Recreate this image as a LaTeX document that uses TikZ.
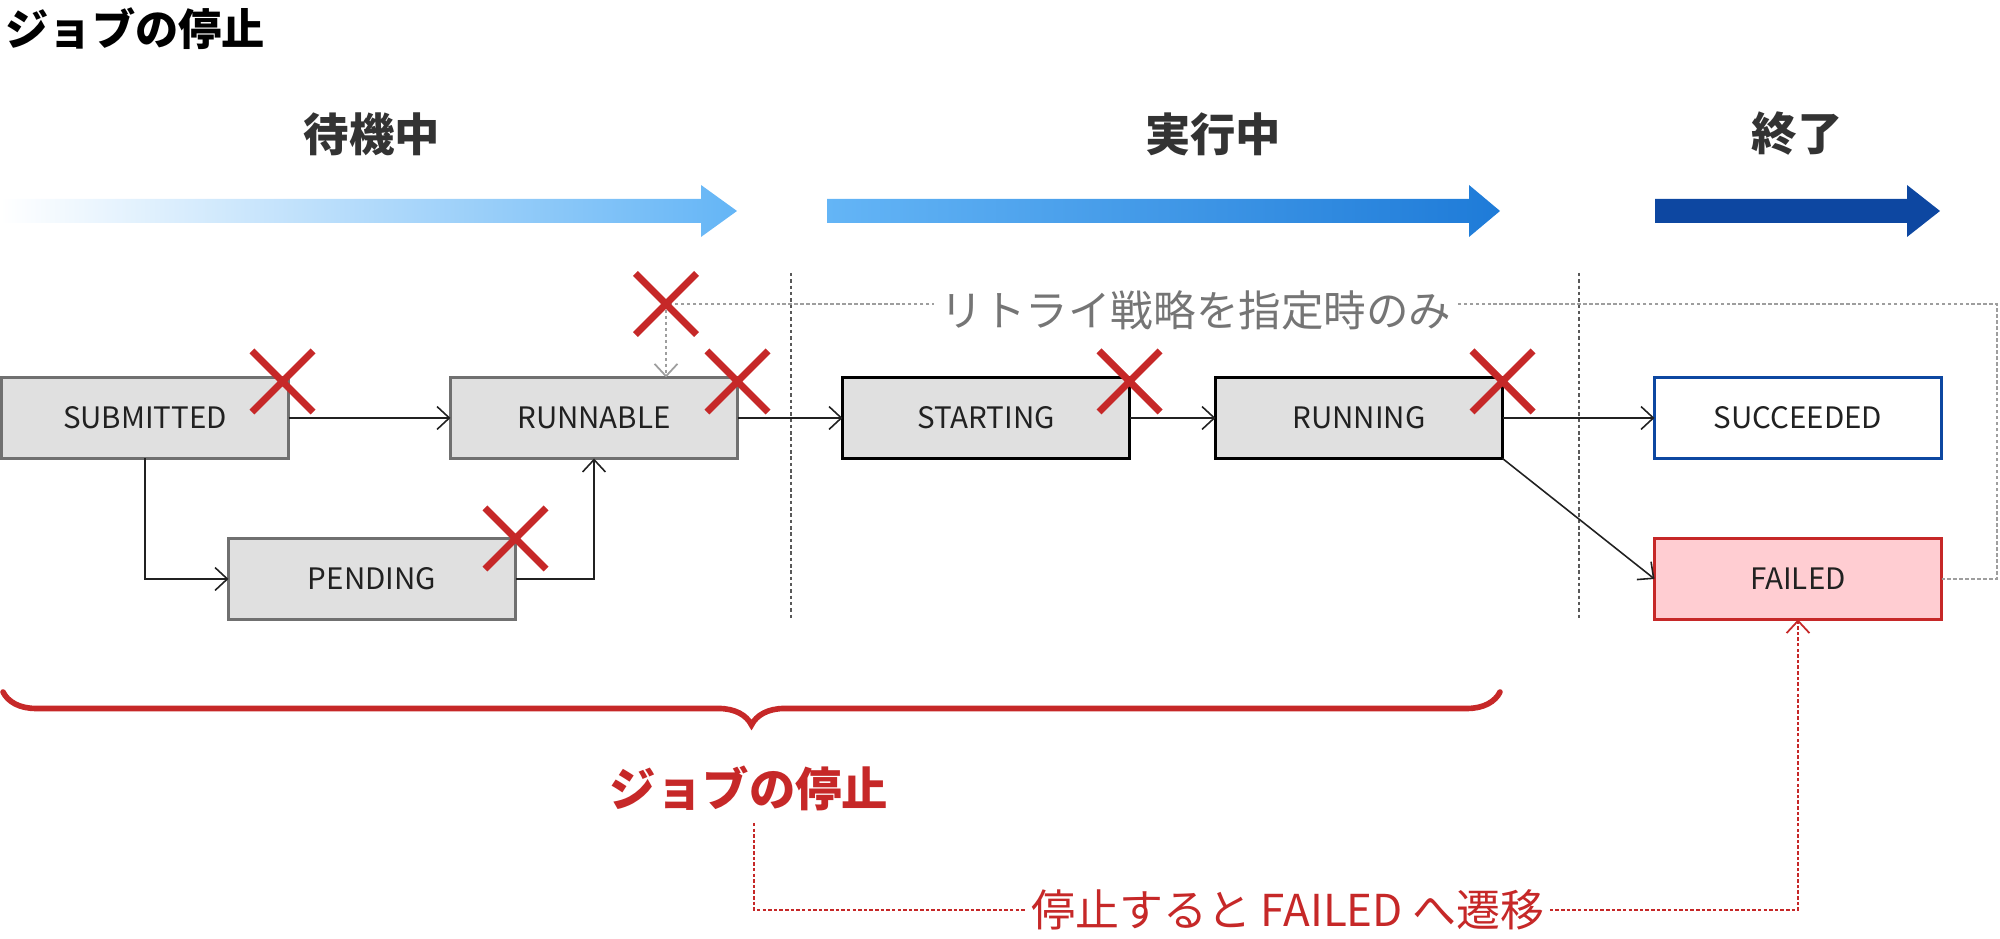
\documentclass[tikz,border=0pt]{standalone}
\usepackage{fontspec}
\setmainfont{Noto Sans CJK JP}
\usepackage{tikz}
\usetikzlibrary{shapes,arrows}
\usetikzlibrary{arrows.meta}
\usetikzlibrary{positioning}
\usetikzlibrary{decorations.pathreplacing}

\definecolor{boxgray}{HTML}{E0E0E0}
\definecolor{edgegray}{HTML}{707070}
\definecolor{stopred}{HTML}{C62828}
\definecolor{failpink}{HTML}{FFCDD2}
\definecolor{doneblue}{HTML}{0D47A1}
\definecolor{lightblue}{HTML}{64B5F6}
\definecolor{midblue}{HTML}{1E7BD8}
\definecolor{labelgray}{HTML}{333333}
\definecolor{retrygray}{HTML}{9E9E9E}
\definecolor{notegray}{HTML}{757575}

\begin{document}
\begin{tikzpicture}[>={Straight Barb[length=3.5pt,width=6.5pt]}, node distance=0.8cm, font=\fontsize{8.4}{10}\selectfont]
	\tikzstyle{waitbox} = [rectangle, minimum width=2.87cm, minimum height=0.81cm, inner sep=0pt, outer sep=0pt, fill=boxgray, draw=edgegray, line width=0.7pt, text=black!87];
	\tikzstyle{runbox} = [waitbox, draw=black, line width=0.9pt];
	\tikzstyle{okbox} = [waitbox, fill=white, draw=doneblue, line width=0.9pt];
	\tikzstyle{ngbox} = [waitbox, fill=failpink, draw=stopred, line width=0.9pt];
	\tikzstyle{stopmark} = [cross out, draw=stopred, line width=2pt, minimum size=0.54cm, inner sep=0pt];
	\tikzstyle{phase} = [text=labelgray, font=\fontsize{12.9}{15}\selectfont\bfseries];
	\tikzstyle{link} = [draw=black!87, line width=0.45pt];
	\tikzstyle{retry} = [draw=retrygray, line width=0.5pt, dash pattern=on 1pt off 0.7pt];
	\tikzstyle{retrynote} = [fill=white, text=notegray, inner xsep=0.07cm, inner ysep=0pt, font=\fontsize{12.1}{14}\selectfont];
	\tikzstyle{phasesep} = [draw=black!65, line width=0.45pt, dash pattern=on 1pt off 0.8pt];
	\tikzstyle{tofail} = [draw=stopred, line width=0.5pt, dash pattern=on 1pt off 0.6pt];
	\tikzstyle{tofailnote} = [fill=white, text=stopred, inner xsep=0.05cm, inner ysep=0pt, font=\fontsize{12.5}{15}\selectfont];

	\useasboundingbox (0,0) rectangle (20,9.39);

	\node [anchor=west, inner sep=0pt, font=\fontsize{12.3}{14}\selectfont\bfseries] (heading) at (0.05,9.10) {ジョブの停止};

	\node [phase] (waiting)  at (3.72,8.05)  {待機中};
	\node [phase] (active)   at (12.13,8.05) {実行中};
	\node [phase] (finished) at (17.97,8.05) {終了};

	\shade [left color=white, right color=lightblue] (0,7.16) -- (7.01,7.16) -- (7.01,7.02) -- (7.37,7.28) -- (7.01,7.54) -- (7.01,7.40) -- (0,7.40) -- cycle;
	\shade [left color=lightblue, right color=midblue] (8.27,7.16) -- (14.69,7.16) -- (14.69,7.02) -- (15.00,7.28) -- (14.69,7.54) -- (14.69,7.40) -- (8.27,7.40) -- cycle;
	\fill [doneblue] (16.55,7.16) -- (19.07,7.16) -- (19.07,7.02) -- (19.40,7.28) -- (19.07,7.54) -- (19.07,7.40) -- (16.55,7.40) -- cycle;

	\draw [phasesep] (7.91,6.66) -- (7.91,3.19);
	\draw [phasesep] (15.79,6.66) -- (15.79,3.19);

	\node [waitbox]                 (submitted) at (1.45,5.21)              {SUBMITTED};
	\node [waitbox]                 (runnable)  [right=1.62cm of submitted] {RUNNABLE};
	\node [waitbox]                 (pending)   at (3.72,3.60)              {PENDING};
	\node [runbox]                  (starting)  [right=1.05cm of runnable]  {STARTING};
	\node [runbox]                  (running)   [right=0.86cm of starting]  {RUNNING};
	\node [okbox]                   (succeeded) [right=1.52cm of running]   {SUCCEEDED};
	\node [ngbox]                   (failed)    [below=0.80cm of succeeded] {FAILED};

	\path [->, link] (submitted) edge (runnable)
	                 (runnable)  edge (starting)
	                 (starting)  edge (running)
	                 (running)   edge (succeeded);
	\draw [->, link] (running.south east) -- (failed.west);
	\draw [->, link] (submitted) |- (pending);
	\draw [->, link] (pending) -| (runnable);

	\coordinate (retrycorner) at (6.66,6.35);
	\draw [retry] (failed.east) -- ++(0.555,0) |- (retrycorner);
	\draw [retry, ->] (retrycorner) -- (runnable.north -| retrycorner);
	\node [retrynote] (retrytext) at (11.96,6.29) {リトライ戦略を指定時のみ};

	\node [stopmark] (stopsubmitted) at ([xshift=-0.06cm, yshift=-0.04cm]submitted.north east) {};
	\node [stopmark] (stoprunnable)  at ([yshift=-0.04cm]runnable.north east) {};
	\node [stopmark] (stoppending)   at (pending.north east) {};
	\node [stopmark] (stopstarting)  at ([yshift=-0.04cm]starting.north east) {};
	\node [stopmark] (stoprunning)   at ([yshift=-0.04cm]running.north east) {};
	\node [stopmark] (stopretry)     at (retrycorner) {};

	\draw [decorate, decoration={brace, mirror, amplitude=0.33cm}, stopred, line width=1.6pt, line cap=round] (0.03,2.47) -- (15.00,2.47);

	\node [text=stopred, font=\fontsize{13.2}{15}\selectfont\bfseries] (stoplabel) at (7.49,1.51) {ジョブの停止};
	\coordinate (turn) at (7.54,0.29);
	\draw [tofail, ->] (stoplabel.south -| turn) -- (turn) -| (failed.south);
	\node [tofailnote] (tofailtext) at (12.88,0.29) {停止すると FAILED へ遷移};
\end{tikzpicture}
\end{document}
